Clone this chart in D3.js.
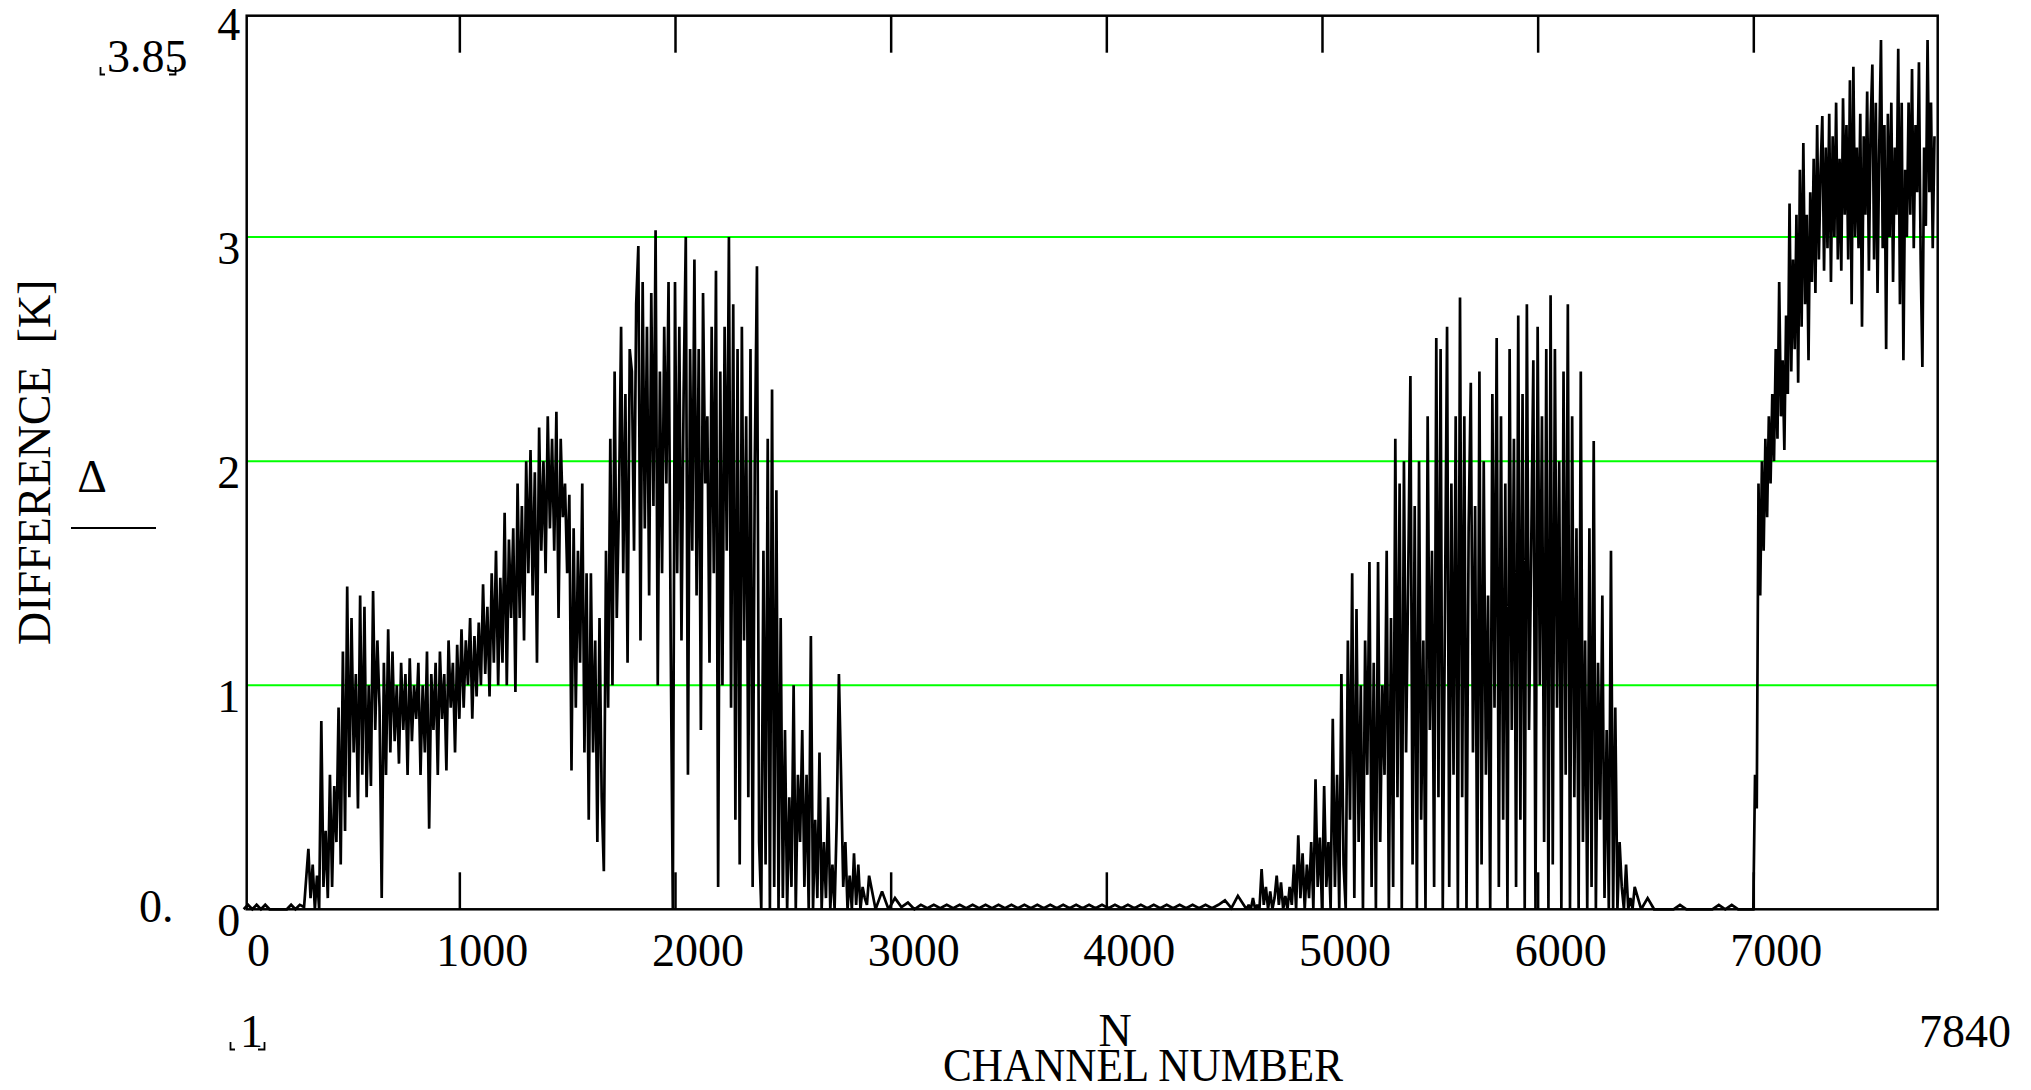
<!DOCTYPE html>
<html><head><meta charset="utf-8">
<script src="https://cdn.jsdelivr.net/npm/d3@7"></script>
<style>html,body{margin:0;padding:0;background:#fff;}svg{display:block;}text{white-space:pre;}</style>
</head><body>
<svg id="chart" width="2031" height="1090"></svg>
<script>
// ---- tick labels / text ----
const xTickValues = [0, 1000, 2000, 3000, 4000, 5000, 6000, 7000];
const yTickValues = [0, 1, 2, 3, 4];
const gridValues = [1, 2, 3];
const xLimitLabels = ["1", "7840"];
const yLimitLabels = ["3.85", "0."];
const xVarName = "N";
const xTitle = "CHANNEL NUMBER";
const yVarName = "\u0394";
const yTitle = "DIFFERENCE  [K]";

// ---- data: channel segments (start channel, channel step) ----
const seg1Start = 0, seg1Step = 20;
const seg1Values = [0, 0.02, 0, 0.02, 0, 0.02, 0, 0, 0, 0, 0, 0.02, 0, 0.02, 0.01];

const seg2Start = 300, seg2Step = 10;
const seg2Values = [
  0.27, 0.05, 0.2, 0, 0.15, 0, 0.84, 0.1, 0.35, 0.05,
  0.6, 0.1, 0.55, 0.3, 0.9, 0.2, 1.15, 0.35, 1.44, 0.5,
  1.3, 0.7, 1.05, 0.45, 1.4, 0.6, 1.35, 0.5, 1.0, 0.55,
  1.42, 0.8, 1.2, 0.9, 0.05, 1.1, 0.6, 1.25, 0.7, 1.15,
  0.75, 1.0, 0.65, 1.1, 0.8, 1.05, 0.6, 1.12, 0.75, 1.0,
  0.85, 1.1, 0.6, 1.0, 0.7, 1.15, 0.36, 1.05, 0.8, 1.1,
  0.6, 1.15, 0.85, 1.05, 0.62, 1.2, 0.9, 1.1, 0.7, 1.18,
  0.85, 1.25, 0.9, 1.2, 1.0, 1.3, 0.85, 1.22, 0.95, 1.28,
  1.0, 1.45, 1.05, 1.35, 0.95, 1.5, 1.1, 1.6, 1.0, 1.48,
  1.1, 1.77, 1.0, 1.65, 1.3, 1.7, 0.97, 1.9, 1.3, 1.8,
  1.2, 2.0, 1.5, 2.05, 1.4, 1.95, 1.1, 2.15, 1.6, 2.0,
  1.5, 2.2, 1.7, 2.1, 1.6, 2.22, 1.3, 2.1, 1.75, 1.9,
  1.5, 1.85, 0.62, 1.7, 0.9, 1.6, 1.1, 1.9, 0.7, 1.5,
  0.4, 1.5, 0.7, 1.2, 0.3, 1.3, 0.5, 0.17, 1.6, 0.9,
  2.1, 1.0, 2.4, 1.3, 1.8, 2.6, 1.5, 2.3, 1.1, 2.5,
  2.4, 1.6, 2.7, 2.96, 1.2, 2.8, 1.7, 2.6, 1.4, 2.75,
  1.8, 3.03, 1.0, 2.4, 1.5, 2.6, 1.9, 2.8, 1.2, 0.0,
  2.8, 1.5, 2.6, 1.2, 2.3, 3.0, 0.6, 2.5, 1.6, 2.9,
  1.4, 2.5, 0.8, 2.75, 1.9, 2.2, 1.1, 2.6, 1.5, 2.85,
  0.1, 2.4, 1.0, 2.6, 1.6, 3.0, 0.9, 2.7, 0.4, 2.5,
  0.2, 2.6, 1.2, 2.2, 0.5, 2.5, 0.1, 2.0, 2.87, 0.3,
  0.0, 1.6, 0.2, 2.1, 0.0, 2.32, 0.1, 1.87, 0.0, 1.3,
  0.05, 0.8, 0.0, 0.5, 0.1, 1.0, 0.0, 0.6, 0.3, 0.8,
  0.1, 0.6, 0.0, 1.22, 0.0, 0.4, 0.05, 0.7, 0.0, 0.3,
  0.05, 0.5, 0.0, 0.2, 0.0, 0.4, 1.05, 0.6, 0.1, 0.3,
  0.0, 0.15, 0.0, 0.25, 0.02, 0.2, 0.0, 0.1, 0.05, 0.02
];

const seg3Start = 2900, seg3Step = 30;
const seg3Values = [
  0.15, 0, 0.08, 0, 0.05, 0.01, 0.03, 0, 0.02, 0.005,
  0.02, 0.005, 0.02, 0.005, 0.02, 0.005, 0.02, 0.005, 0.02, 0.005,
  0.02, 0.005, 0.02, 0.005, 0.02, 0.005, 0.02, 0.005, 0.02, 0.005,
  0.02, 0.005, 0.02, 0.005, 0.02, 0.005, 0.02, 0.005, 0.02, 0.005,
  0.02, 0.005, 0.02, 0.005, 0.02, 0.005, 0.02, 0.005, 0.02, 0.005,
  0.02, 0.005, 0.02, 0.005, 0.02, 0.04, 0.005, 0.06
];

const seg4Start = 4650, seg4Step = 10;
const seg4Values = [
  0.0, 0.02, 0.0, 0.05, 0.0, 0.02, 0.0, 0.18, 0.02, 0.1,
  0.0, 0.08, 0.0, 0.05, 0.15, 0.02, 0.12, 0.0, 0.06, 0.0,
  0.1, 0.02, 0.2, 0.0, 0.33, 0.05, 0.25, 0.0, 0.2, 0.05,
  0.3, 0.0, 0.58, 0.1, 0.32, 0.0, 0.55, 0.1, 0.3, 0.0,
  0.85, 0.1, 0.6, 0.0, 1.05, 0.2, 0.0, 1.2, 0.4, 1.5,
  0.05, 1.34, 0.3, 1.0, 0.0, 1.2, 0.6, 1.55, 0.1, 1.1,
  0.0, 1.55, 0.3, 1.0, 0.6, 1.6, 0.0, 1.3, 0.1, 2.1,
  0.5, 1.9, 0.0, 2.0, 0.7, 1.5, 2.38, 0.2, 1.8, 0.0,
  2.0, 0.4, 1.2, 0.0, 2.2, 0.8, 1.6, 0.1, 2.55, 0.5,
  2.5, 0.0, 1.3, 2.6, 0.1, 1.9, 0.6, 2.2, 0.0, 2.73,
  0.5, 2.2, 0.0, 1.7, 2.35, 0.7, 1.8, 0.0, 2.4, 0.2,
  2.0, 0.6, 1.4, 0.0, 2.3, 0.9, 2.55, 0.1, 2.2, 0.4,
  1.9, 0.0, 2.5, 0.8, 2.1, 0.1, 2.65, 0.4, 2.3, 0.0,
  2.7, 0.8, 1.6, 2.45, 0.0, 2.6, 1.0, 2.2, 0.3, 2.5,
  0.0, 2.74, 0.2, 2.5, 0.9, 2.0, 0.0, 2.4, 0.6, 2.7,
  0.0, 2.2, 0.5, 1.7, 0.0, 2.4, 0.3, 1.2, 0.0, 1.7,
  0.1, 2.09, 0.0, 1.1, 0.4, 1.4, 0.05, 0.8, 0.0, 1.6,
  0.0, 0.9, 0.0, 0.3, 0.1, 0.0, 0.2, 0.0, 0.05, 0.0
];

const seg5Start = 6450, seg5Step = 30;
const seg5Values = [0.1, 0, 0.05, 0, 0, 0, 0, 0.02, 0, 0, 0, 0, 0, 0.02, 0, 0.02, 0, 0, 0];

const seg6Start = 7000, seg6Step = 8;
const seg6Values = [
  0, 0.6, 0.45, 1.9, 1.4, 2.0, 1.6, 2.1, 1.75, 2.2,
  1.9, 2.3, 2.0, 2.5, 2.1, 2.8, 2.2, 2.45, 2.05, 2.65,
  2.3, 3.15, 2.4, 2.9, 2.5, 3.1, 2.35, 3.3, 2.6, 3.42,
  2.7, 3.1, 2.45, 3.2, 2.8, 3.35, 2.75, 3.5, 2.9, 3.3,
  3.54, 2.85, 3.4, 2.95, 3.55, 2.8, 3.45, 3.0, 3.6, 2.9,
  3.35, 2.85, 3.62, 3.1, 3.5, 2.9, 3.7, 2.7, 3.76, 3.0,
  3.4, 2.95, 3.55, 2.6, 3.45, 3.1, 3.65, 2.85, 3.5, 3.77,
  2.9, 3.6, 2.75, 3.4, 3.88, 2.95, 3.5, 2.5, 3.55, 3.0,
  3.6, 2.8, 3.4, 3.1, 3.84, 2.7, 3.6, 2.45, 3.3, 3.0,
  3.6, 3.1, 3.75, 2.95, 3.5, 3.2, 3.78, 2.9, 2.42, 3.4,
  3.05, 3.88, 3.2, 3.6, 2.95, 3.45
];

const segments = [
  [seg1Start, seg1Step, seg1Values],
  [seg2Start, seg2Step, seg2Values],
  [seg3Start, seg3Step, seg3Values],
  [seg4Start, seg4Step, seg4Values],
  [seg5Start, seg5Step, seg5Values],
  [seg6Start, seg6Step, seg6Values]
];
const data = segments.flatMap(([s, st, vals]) => vals.map((v, i) => ({ ch: s + i * st, v })));

// ---- layout ----
const W = 2031, H = 1090;
const pL = 246.7, pR = 1937.7, pT = 15.7, pB = 909.3;
const FONT = "'Liberation Serif', 'Times New Roman', serif";

const x = d3.scaleLinear().domain([14, 7855]).range([pL, pR]);
const y = d3.scaleLinear().domain([0, 3.988]).range([pB, pT]);

const svg = d3.select("#chart");
svg.append("rect").attr("width", W).attr("height", H).attr("fill", "#fff");

// grid lines
svg.append("g").selectAll("line").data(gridValues).join("line")
  .attr("x1", pL).attr("x2", pR)
  .attr("y1", d => y(d)).attr("y2", d => y(d))
  .attr("stroke", "#00ff00").attr("stroke-width", 2);

// data line
const line = d3.line().x(d => x(d.ch)).y(d => y(d.v));
svg.append("path").datum(data)
  .attr("d", line)
  .attr("fill", "none")
  .attr("stroke", "#000")
  .attr("stroke-width", 2.7)
  .attr("stroke-linejoin", "miter")
  .attr("stroke-miterlimit", 2);

// frame
svg.append("rect")
  .attr("x", pL).attr("y", pT)
  .attr("width", pR - pL).attr("height", pB - pT)
  .attr("fill", "none").attr("stroke", "#000").attr("stroke-width", 2.5);

// bottom axis: inward ticks + labels
const gB = svg.append("g").attr("transform", `translate(0,${pB})`)
  .call(d3.axisBottom(x).tickValues(xTickValues).tickSizeInner(-37).tickSizeOuter(0).tickFormat(d3.format("d")));
gB.select(".domain").remove();
gB.selectAll(".tick line").attr("stroke", "#000").attr("stroke-width", 2.5)
  .attr("display", d => (x(d) < pL + 2 ? "none" : null));
gB.selectAll(".tick text")
  .attr("y", 57).attr("dy", 0)
  .attr("x", d => (d === 0 ? 14.3 : 22.5))
  .attr("fill", "#000")
  .style("font-family", FONT).style("font-size", "46px");

// top axis: inward ticks, no labels
const gT = svg.append("g").attr("transform", `translate(0,${pT})`)
  .call(d3.axisTop(x).tickValues(xTickValues.filter(d => d > 0)).tickSizeInner(-37).tickSizeOuter(0).tickFormat(""));
gT.select(".domain").remove();
gT.selectAll(".tick line").attr("stroke", "#000").attr("stroke-width", 2.5);

// left axis labels
const gL = svg.append("g").attr("transform", `translate(${pL},0)`)
  .call(d3.axisLeft(y).tickValues(yTickValues).tickSize(0).tickPadding(6.5).tickFormat(d3.format("d")));
gL.select(".domain").remove();
gL.selectAll(".tick text")
  .attr("dy", 26).attr("y", 0)
  .attr("fill", "#000")
  .style("font-family", FONT).style("font-size", "46px");

const txt = (s, xx, yy, anchor, size) => svg.append("text")
  .attr("x", xx).attr("y", yy).attr("text-anchor", anchor || "start")
  .attr("fill", "#000").style("font-family", FONT).style("font-size", (size || 46) + "px").text(s);

// limit placeholders
txt(yLimitLabels[0], 107, 72, "start");
txt(yLimitLabels[1], 139, 922, "start");
txt(xLimitLabels[0], 240, 1047, "start");
txt(xLimitLabels[1], 2011, 1047, "end");

// placeholder brackets
const br = (d) => svg.append("path").attr("d", d).attr("fill", "none").attr("stroke", "#000").attr("stroke-width", 1.8);
br("M100.5,67 V74.5 H105");
br("M169,74.5 H175.5 V67");
br("M230.5,1042 V1049.5 H235");
br("M258,1049.5 H264.5 V1042");

// x titles
txt(xVarName, 1115, 1046, "middle");
txt(xTitle, 943, 1081, "start").attr("textLength", 400).attr("lengthAdjust", "spacingAndGlyphs");

// y titles
svg.append("text")
  .attr("transform", "translate(50,645) rotate(-90)")
  .attr("x", 0).attr("y", 0).attr("text-anchor", "start")
  .attr("fill", "#000").style("font-family", FONT).style("font-size", "46px")
  .style("white-space", "pre")
  .text(yTitle);
txt(yVarName, 92, 492, "middle");
svg.append("line").attr("x1", 71).attr("x2", 156).attr("y1", 528).attr("y2", 528)
  .attr("stroke", "#000").attr("stroke-width", 2);
</script>
</body></html>
